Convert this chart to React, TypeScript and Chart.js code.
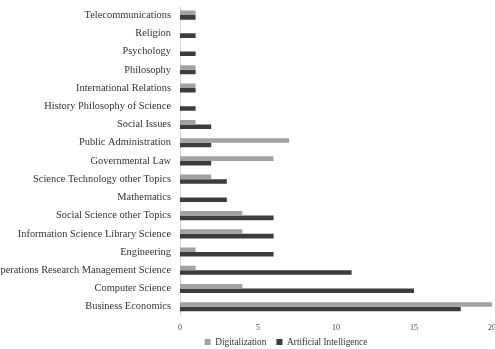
import React, { useEffect, useRef } from "react";
import { Chart, registerables } from "chart.js";

Chart.register(...registerables);

const categories = [
  "Telecommunications",
  "Religion",
  "Psychology",
  "Philosophy",
  "International Relations",
  "History Philosophy of Science",
  "Social Issues",
  "Public Administration",
  "Governmental Law",
  "Science Technology other Topics",
  "Mathematics",
  "Social Science other Topics",
  "Information Science Library Science",
  "Engineering",
  "Operations Research Management Science",
  "Computer Science",
  "Business Economics",
];

const digitalization = [1, 0, 0, 1, 1, 0, 1, 7, 6, 2, 0, 4, 4, 1, 1, 4, 20];
const artificialIntelligence = [1, 1, 1, 1, 1, 1, 2, 2, 2, 3, 3, 6, 6, 6, 11, 15, 18];

const xTicks = [0, 5, 10, 15, 20];

const unclipLabels = {
  id: "unclipLabels",
  afterLayout(chart: any) {
    const y = chart.scales.y;
    if (y) y.left = -400;
    const x = chart.scales.x;
    if (x) x.bottom = x.top + 40;
  },
};

export default function App() {
  const ref = useRef<HTMLCanvasElement>(null);

  useEffect(() => {
    document.body.style.margin = "0";
    const ctx = ref.current!;
    const chart = new Chart(ctx, {
      type: "bar",
      data: {
        labels: categories,
        datasets: [
          {
            label: "Digitalization",
            data: digitalization,
            backgroundColor: "#a2a2a2",
            categoryPercentage: 0.5,
            barPercentage: 1.0,
          },
          {
            label: "Artificial Intelligence",
            data: artificialIntelligence,
            backgroundColor: "#3c3c3c",
            categoryPercentage: 0.5,
            barPercentage: 1.0,
          },
        ],
      },
      options: {
        indexAxis: "y",
        responsive: false,
        animation: false,
        devicePixelRatio: 1,
        layout: { padding: { left: 69, top: 6, right: 0, bottom: -7.75 } },
        plugins: {
          legend: {
            position: "bottom",
            labels: {
              boxWidth: 6,
              boxHeight: 6,
              padding: 10,
              color: "#333",
              font: { family: "'Liberation Serif', serif", size: 9.3 },
            },
          },
          tooltip: { enabled: false },
        },
        scales: {
          x: {
            min: 0,
            max: 20,
            afterBuildTicks: (scale: any) => {
              scale.ticks = xTicks.map((v) => ({ value: v }));
            },
            afterFit: (scale: any) => {
              scale.height = 11.6;
            },
            grid: { display: false, drawTicks: false },
            border: { display: false },
            ticks: {
              padding: 7,
              color: "#444",
              font: { family: "'Liberation Serif', serif", size: 8 },
            },
          },
          y: {
            afterFit: (scale: any) => {
              scale.width = 111;
              scale.paddingTop = 0;
              scale.paddingBottom = 0;
            },
            grid: { display: false, drawTicks: false },
            border: { display: true, color: "#d6d6d6", width: 1 },
            ticks: {
              autoSkip: false,
              padding: 9,
              color: "#333",
              font: { family: "'Liberation Serif', serif", size: 10.4 },
            },
          },
        },
      },
      plugins: [unclipLabels],
    });
    return () => chart.destroy();
  }, []);

  return (
    <div
      style={{
        position: "absolute",
        left: 0,
        top: 0,
        width: 495,
        height: 349,
        overflow: "hidden",
        background: "#fff",
      }}
    >
      <canvas ref={ref} width={503} height={349} style={{ display: "block" }} />
    </div>
  );
}
